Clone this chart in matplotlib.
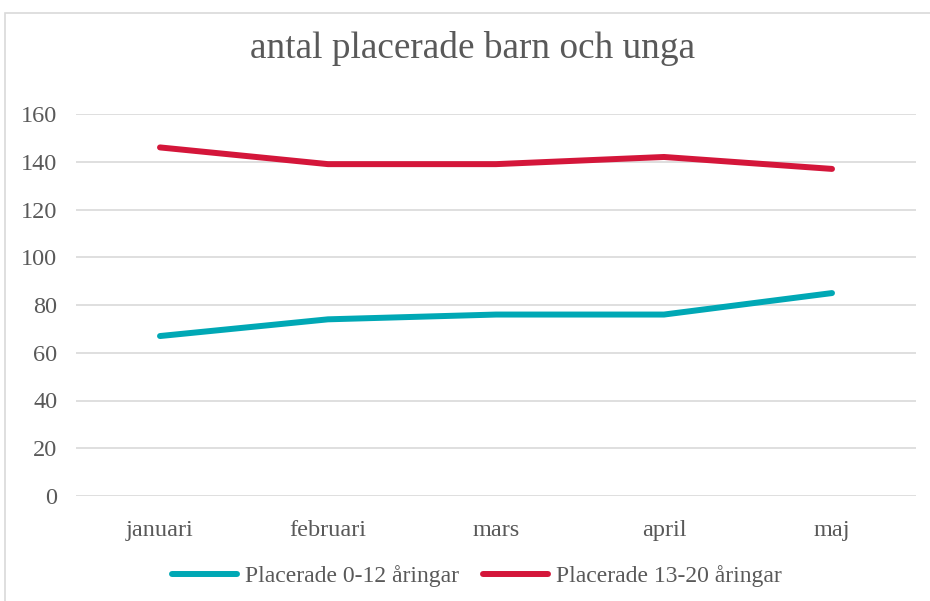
import matplotlib
matplotlib.use("Agg")
import matplotlib.pyplot as plt
from matplotlib.patches import Rectangle

# data
months = ["januari", "februari", "mars", "april", "maj"]
young_label = "Placerade 0-12 åringar"
young = [67, 74, 76, 76, 85]
teen_label = "Placerade 13-20 åringar"
teen = [146, 139, 139, 142, 137]
yticks = [0, 20, 40, 60, 80, 100, 120, 140, 160]

plt.rcParams['font.family'] = ['Liberation Serif', 'DejaVu Serif']
txt = '#595959'
grid = '#d9d9d9'

fig = plt.figure(figsize=(9.3, 6.01), dpi=100)
ax = fig.add_axes([76 / 930, 1 - 496 / 601, 840 / 930, 382 / 601])

# outer chart border (cut off at right/bottom)
fig.patches.append(Rectangle((5 / 930, -0.1), 1.2, 1.1 - 13 / 601, transform=fig.transFigure,
                             fill=False, edgecolor=grid, linewidth=1.2, clip_on=False))

x = range(len(months))
ax.plot(x, young, color='#00a8b5', lw=4.3, solid_capstyle='round', label=young_label)
ax.plot(x, teen, color='#d4163a', lw=4.3, solid_capstyle='round', label=teen_label)

ax.set_xlim(-0.5, len(months) - 0.5)
ax.set_ylim(0, 160)
ax.set_yticks(yticks)
ax.set_xticks(list(x))
ax.set_xticklabels(months)
ax.grid(axis='y', color=grid, lw=1.2)
ax.set_axisbelow(True)
for s in ax.spines.values():
    s.set_visible(False)
ax.tick_params(length=0, labelsize=17.5, colors=txt)
ax.tick_params(axis='y', pad=13.5)
ax.tick_params(axis='x', pad=17.5)

fig.text(0.508, 1 - 49 / 601, "antal placerade barn och unga", ha='center', va='center',
         fontsize=26.8, color=txt)

leg = fig.legend(loc='center', bbox_to_anchor=(0.513, 1 - 576 / 601), ncol=2, frameon=False,
                 fontsize=17, handlelength=2.75, handletextpad=0.34, columnspacing=1.0)
for t in leg.get_texts():
    t.set_color(txt)

fig.savefig("out.png", dpi=100)
